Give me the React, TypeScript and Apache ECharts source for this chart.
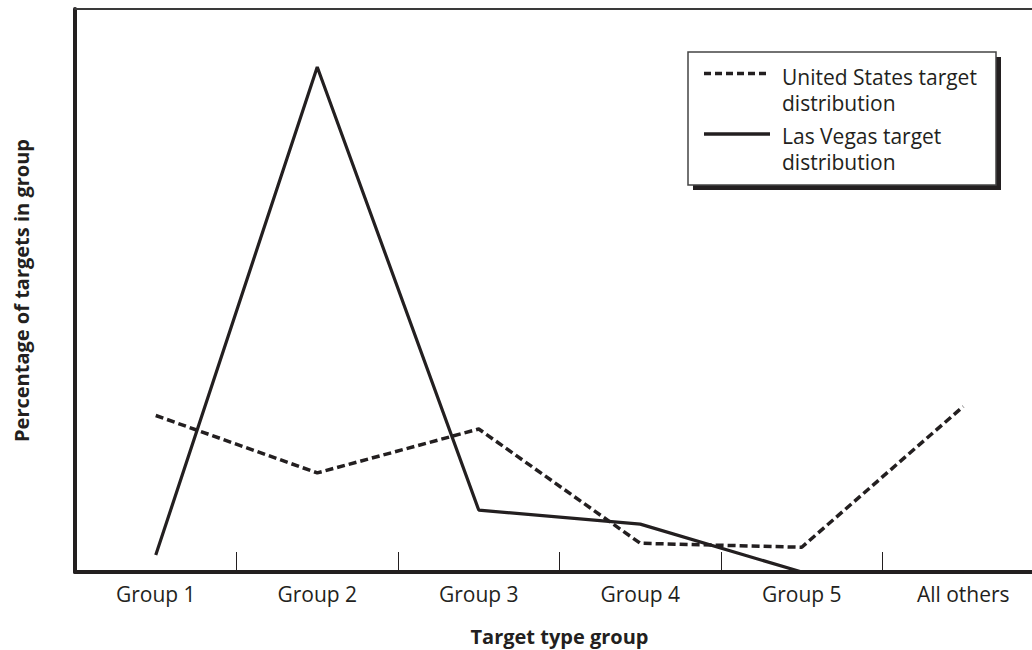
import React, { useEffect, useRef } from "react";
import * as echarts from "echarts";

const categories = ["Group 1", "Group 2", "Group 3", "Group 4", "Group 5", "All others"];
const usValues = [27.8, 17.6, 25.4, 5.1, 4.4, 29.4];
const lvValues = [3.0, 89.7, 11.0, 8.5, 0, 0];
const usName = "United States target distribution";
const lvName = "Las Vegas target distribution";
const usLegend = "United States target\ndistribution";
const lvLegend = "Las Vegas target\ndistribution";
const yTitle = "Percentage of targets in group";
const xTitle = "Target type group";

const INK = "#231f20";
const FONT = "'Open Sans', 'Noto Sans', sans-serif";

export default function App() {
  const ref = useRef<HTMLDivElement>(null);
  useEffect(() => {
    document.body.style.margin = "0";
    if (!ref.current) return;
    const chart = echarts.init(ref.current, undefined, { renderer: "svg" });
    chart.setOption({
      animation: false,
      backgroundColor: "#ffffff",
      textStyle: { fontFamily: FONT, color: INK },
      grid: { left: 75, width: 969, top: 9, height: 563, containLabel: false, outerBoundsMode: "none" },
      xAxis: [
        {
          type: "category",
          data: categories,
          boundaryGap: true,
          position: "bottom",
          axisLine: { show: true, onZero: false, lineStyle: { color: INK, width: 4 } },
          axisTick: { show: true, inside: true, length: 20, interval: 0, lineStyle: { color: INK, width: 1 } },
          axisLabel: { show: true, interval: 0, margin: 11, fontSize: 21, color: INK, fontFamily: FONT },
          splitLine: { show: false },
          name: xTitle,
          nameLocation: "middle",
          nameGap: 54,
          nameTextStyle: { fontSize: 20, fontWeight: "bold", color: INK, fontFamily: FONT },
        },
        {
          type: "category",
          data: categories,
          position: "top",
          axisLine: { show: true, onZero: false, lineStyle: { color: "#3a3a3a", width: 2 } },
          axisTick: { show: false },
          axisLabel: { show: false },
          splitLine: { show: false },
        },
      ],
      yAxis: {
        type: "value",
        min: 0,
        max: 100,
        axisLine: { show: true, lineStyle: { color: INK, width: 4 } },
        axisTick: { show: false },
        axisLabel: { show: false },
        splitLine: { show: false },
        name: yTitle,
        nameLocation: "middle",
        nameRotate: 90,
        nameGap: 44,
        nameTextStyle: { fontSize: 20, fontWeight: "bold", color: INK, fontFamily: FONT },
      },
      series: [
        {
          name: usName,
          type: "line",
          data: usValues,
          symbol: "none",
          lineStyle: { color: INK, width: 3.5, type: [8, 4] },
          z: 2,
        },
        {
          name: lvName,
          type: "line",
          data: lvValues,
          symbol: "none",
          lineStyle: { color: INK, width: 3.2, type: "solid" },
          z: 3,
        },
      ],
      graphic: [
        { type: "rect", z: 10, shape: { x: 693, y: 57, width: 308, height: 133 }, style: { fill: INK } },
        { type: "rect", z: 11, shape: { x: 688, y: 52, width: 308, height: 133 }, style: { fill: "#ffffff", stroke: "#444444", lineWidth: 1.5 } },
        { type: "line", z: 12, shape: { x1: 704, y1: 73.5, x2: 770, y2: 73.5 }, style: { stroke: INK, lineWidth: 3.5, lineDash: [7, 4] } },
        { type: "line", z: 12, shape: { x1: 704, y1: 134, x2: 770, y2: 134 }, style: { stroke: INK, lineWidth: 3.5 } },
        { type: "text", z: 12, x: 782, y: 64, style: { text: usLegend, fill: INK, fontSize: 21, lineHeight: 26, fontFamily: FONT, textVerticalAlign: "top" } },
        { type: "text", z: 12, x: 782, y: 122.5, style: { text: lvLegend, fill: INK, fontSize: 21, lineHeight: 26, fontFamily: FONT, textVerticalAlign: "top" } },
      ],
    });
    return () => chart.dispose();
  }, []);
  return (
    <div
      ref={ref}
      style={{ position: "fixed", left: 0, top: 0, width: 1032, height: 650 }}
    />
  );
}
